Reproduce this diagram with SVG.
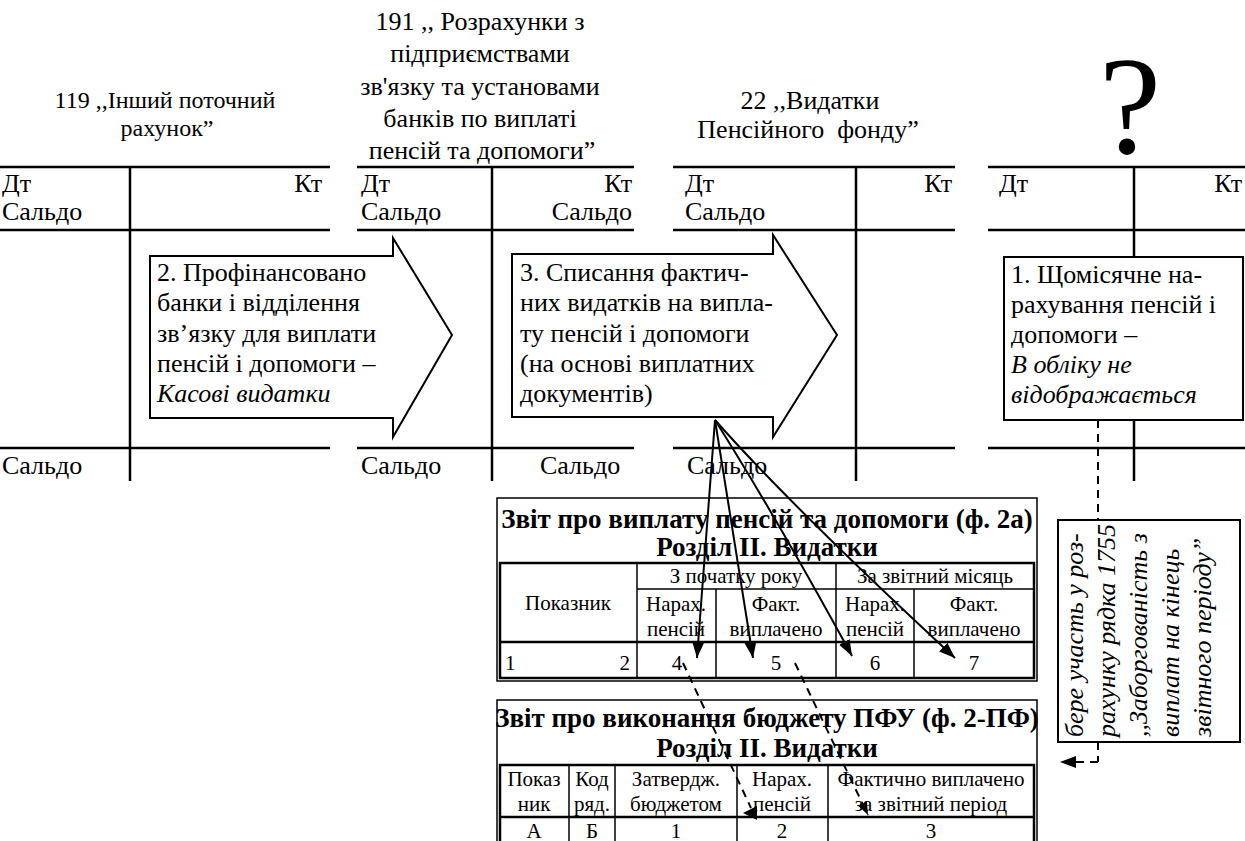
<svg xmlns="http://www.w3.org/2000/svg" width="1245" height="841" viewBox="0 0 1245 841">
<style>
text{font-family:"Liberation Serif","Times New Roman",serif;fill:#000}
.t{font-size:26px}
.i{font-style:italic}
.h{font-size:26px}
.tb{font-size:27px;font-weight:bold}
.tc{font-size:21px}
.m{text-anchor:middle}
.e{text-anchor:end}
.ln{stroke:#000;stroke-width:2.5;fill:none}
.bx{stroke:#000;stroke-width:2;fill:#fff}
.tl{stroke:#000;stroke-width:1.5;fill:none}
.tk{stroke:#000;stroke-width:2.5;fill:none}
.cn{stroke:#000;stroke-width:2;fill:none}
.dsh{stroke:#000;stroke-width:2;fill:none;stroke-dasharray:8 6}
</style>
<defs>
<marker id="ah" markerUnits="userSpaceOnUse" markerWidth="18" markerHeight="14" refX="16" refY="6" orient="auto">
<path d="M0,0 L16,6 L0,12 z" fill="#000"/>
</marker>
<marker id="ahs" markerUnits="userSpaceOnUse" markerWidth="16" markerHeight="12" refX="13" refY="5" orient="auto">
<path d="M0,0 L13,5 L0,10 z" fill="#000"/>
</marker>
</defs>
<rect width="1245" height="841" fill="#fff"/>

<g id="title-119">
<text class="h m" x="165" y="108" style="font-size:24px">119 ,,Інший поточний</text>
<text class="h m" x="167" y="136" style="font-size:24px">рахунок”</text>
</g>
<g id="title-191">
<text class="h m" x="480" y="30">191 ,, Розрахунки з</text>
<text class="h m" x="480" y="62">підприємствами</text>
<text class="h m" x="480" y="95">зв'язку та установами</text>
<text class="h m" x="480" y="127">банків по виплаті</text>
<text class="h m" x="482" y="159">пенсій та допомоги”</text>
</g>
<g id="title-22">
<text class="h m" x="810" y="109">22 ,,Видатки</text>
<text class="h m" x="808" y="138" xml:space="preserve">Пенсійного  фонду”</text>
</g>
<g id="title-q">
<text class="m" x="1130" y="153" style="font-size:140px">?</text>
</g>

<g id="account-119">
<line class="ln" x1="0" y1="167" x2="330" y2="167"/>
<line class="ln" x1="0" y1="230" x2="330" y2="230"/>
<line class="ln" x1="0" y1="448" x2="330" y2="448"/>
<line class="ln" x1="130" y1="167" x2="130" y2="481"/>
<text class="t" x="2" y="192">Дт</text>
<text class="t e" x="322" y="192">Кт</text>
<text class="t" x="2" y="220">Сальдо</text>
<text class="t" x="2" y="474">Сальдо</text>
</g>
<g id="account-191">
<line class="ln" x1="357" y1="167" x2="634" y2="167"/>
<line class="ln" x1="357" y1="230" x2="634" y2="230"/>
<line class="ln" x1="357" y1="448" x2="634" y2="448"/>
<line class="ln" x1="492" y1="167" x2="492" y2="481"/>
<text class="t" x="361" y="192">Дт</text>
<text class="t e" x="632" y="192">Кт</text>
<text class="t" x="361" y="220">Сальдо</text>
<text class="t e" x="632" y="220">Сальдо</text>
<text class="t" x="361" y="474">Сальдо</text>
<text class="t" x="540" y="474">Сальдо</text>
</g>
<g id="account-22">
<line class="ln" x1="673" y1="167" x2="955" y2="167"/>
<line class="ln" x1="673" y1="230" x2="955" y2="230"/>
<line class="ln" x1="673" y1="448" x2="955" y2="448"/>
<line class="ln" x1="856" y1="167" x2="856" y2="481"/>
<text class="t" x="685" y="192">Дт</text>
<text class="t e" x="952" y="192">Кт</text>
<text class="t" x="685" y="220">Сальдо</text>
<text class="t" x="687" y="474">Сальдо</text>
</g>
<g id="account-q">
<line class="ln" x1="988" y1="167" x2="1245" y2="167"/>
<line class="ln" x1="988" y1="230" x2="1245" y2="230"/>
<line class="ln" x1="988" y1="448" x2="1245" y2="448"/>
<line class="ln" x1="1134" y1="167" x2="1134" y2="481"/>
<text class="t" x="999" y="192">Дт</text>
<text class="t e" x="1242" y="192">Кт</text>
</g>

<g id="connectors">
<line class="dsh" x1="1098" y1="420" x2="1098" y2="762"/>
<line class="dsh" x1="1098" y1="762" x2="1074" y2="762"/>
<polygon points="1060,762 1076,756 1076,768" fill="#000"/>
</g>

<g id="arrow-2">
<polygon class="bx" points="150,256 393,256 393,238 452,335 393,437 393,418 150,418"/>
<text class="t" x="157" y="281">2. Профінансовано</text>
<text class="t" x="157" y="311">банки і відділення</text>
<text class="t" x="157" y="342">зв’язку для виплати</text>
<text class="t" x="157" y="372">пенсій і допомоги –</text>
<text class="t i" x="157" y="402">Касові видатки</text>
</g>
<g id="arrow-3">
<polygon class="bx" points="512,254 773,254 773,235 837,335 773,437 773,417 512,417"/>
<text class="t" x="520" y="281">3. Списання фактич-</text>
<text class="t" x="520" y="311">них видатків на випла-</text>
<text class="t" x="520" y="342">ту пенсій і допомоги</text>
<text class="t" x="520" y="372">(на основі виплатних</text>
<text class="t" x="520" y="402">документів)</text>
</g>
<g id="box-1">
<rect class="bx" x="1004" y="257" width="239" height="163"/>
<text class="t" x="1011" y="283">1. Щомісячне на-</text>
<text class="t" x="1011" y="313">рахування пенсій і</text>
<text class="t" x="1011" y="343">допомоги –</text>
<text class="t i" x="1011" y="373">В обліку не</text>
<text class="t i" x="1011" y="403">відображається</text>
</g>

<g id="box-note">
<rect class="bx" x="1058" y="520" width="182" height="222"/>
<text class="t i" transform="translate(1083,737) rotate(-90)">бере участь у роз-</text>
<text class="t i" transform="translate(1115,737) rotate(-90)">рахунку рядка 1755</text>
<text class="t i" transform="translate(1147,737) rotate(-90)">,,Заборгованість з</text>
<text class="t i" transform="translate(1179,737) rotate(-90)">виплат на кінець</text>
<text class="t i" transform="translate(1211,737) rotate(-90)">звітного періоду”</text>
</g>

<g id="table-2a">
<rect class="tl" x="497" y="498" width="540" height="183" fill="#fff"/>
<text class="tb m" x="767" y="528">Звіт про виплату пенсій та допомоги (ф. 2а)</text>
<text class="tb m" x="767" y="556">Розділ ІІ. Видатки</text>
<rect class="tk" x="500" y="563" width="534" height="115"/>
<line class="tl" x1="637" y1="589" x2="1034" y2="589"/>
<line class="tk" x1="500" y1="642" x2="1034" y2="642"/>
<line class="tl" x1="637" y1="563" x2="637" y2="678"/>
<line class="tl" x1="836" y1="563" x2="836" y2="678"/>
<line class="tl" x1="716" y1="589" x2="716" y2="678"/>
<line class="tl" x1="914" y1="589" x2="914" y2="678"/>
<text class="tc m" x="568" y="610">Показник</text>
<text class="tc m" x="736" y="583">З початку року</text>
<text class="tc m" x="935" y="583">За звітний місяць</text>
<text class="tc m" x="676" y="611">Нарах.</text>
<text class="tc m" x="676" y="636">пенсій</text>
<text class="tc m" x="776" y="611">Факт.</text>
<text class="tc m" x="776" y="636">виплачено</text>
<text class="tc m" x="875" y="611">Нарах.</text>
<text class="tc m" x="875" y="636">пенсій</text>
<text class="tc m" x="974" y="611">Факт.</text>
<text class="tc m" x="974" y="636">виплачено</text>
<text class="tc" x="505" y="670">1</text>
<text class="tc e" x="630" y="670">2</text>
<text class="tc m" x="677" y="670">4</text>
<text class="tc m" x="776" y="670">5</text>
<text class="tc m" x="875" y="670">6</text>
<text class="tc m" x="974" y="670">7</text>
</g>

<g id="table-2pf">
<rect class="tl" x="497" y="700" width="540" height="150" fill="#fff"/>
<text class="tb m" x="767" y="727">Звіт про виконання бюджету ПФУ (ф. 2-ПФ)</text>
<text class="tb m" x="767" y="757">Розділ ІІ. Видатки</text>
<rect class="tk" x="500" y="765" width="534" height="85"/>
<line class="tk" x1="500" y1="817" x2="1034" y2="817"/>
<line class="tl" x1="569" y1="765" x2="569" y2="850"/>
<line class="tl" x1="615" y1="765" x2="615" y2="850"/>
<line class="tl" x1="737" y1="765" x2="737" y2="850"/>
<line class="tl" x1="828" y1="765" x2="828" y2="850"/>
<text class="tc m" x="534" y="786">Показ</text>
<text class="tc m" x="534" y="811">ник</text>
<text class="tc m" x="592" y="786">Код</text>
<text class="tc m" x="592" y="811">ряд.</text>
<text class="tc m" x="676" y="786">Затвердж.</text>
<text class="tc m" x="676" y="811">бюджетом</text>
<text class="tc m" x="782" y="786">Нарах.</text>
<text class="tc m" x="782" y="811">пенсій</text>
<text class="tc m" x="931" y="786">Фактично виплачено</text>
<text class="tc m" x="931" y="811">за звітний період</text>
<text class="tc m" x="534" y="838">А</text>
<text class="tc m" x="592" y="838">Б</text>
<text class="tc m" x="676" y="838">1</text>
<text class="tc m" x="782" y="838">2</text>
<text class="tc m" x="931" y="838">3</text>
</g>

<g id="connectors-fan">
<line class="cn" x1="715" y1="420" x2="697" y2="658" marker-end="url(#ah)"/>
<line class="cn" x1="715" y1="420" x2="753" y2="658" marker-end="url(#ah)"/>
<path class="cn" d="M715,420 Q775,515 852,656" marker-end="url(#ah)"/>
<path class="cn" d="M715,420 Q790,505 955,658" marker-end="url(#ah)"/>
<path class="dsh" d="M683,663 L751,808"/>
<polygon points="743,813 757,806 757,820" fill="#000"/>
<line class="dsh" x1="795" y1="663" x2="868" y2="815" marker-end="url(#ahs)"/>
</g>
</svg>
